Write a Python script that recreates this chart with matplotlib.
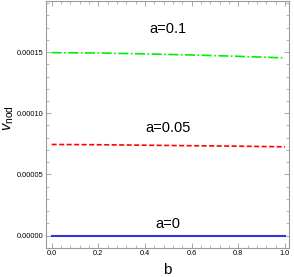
import numpy as np
import matplotlib
matplotlib.use("Agg")
import matplotlib.pyplot as plt
from matplotlib.ticker import MultipleLocator, FormatStrFormatter

plt.rcParams['font.family'] = ['Liberation Sans', 'DejaVu Sans']
plt.rcParams['mathtext.fontset'] = 'custom'
plt.rcParams['mathtext.rm'] = 'Liberation Sans'
plt.rcParams['mathtext.it'] = 'Liberation Sans:italic'

# values
b = [0.0, 0.2, 0.4, 0.6, 0.8, 1.0]
v_a01 = [1.495e-4, 1.492e-4, 1.485e-4, 1.476e-4, 1.465e-4, 1.452e-4]
v_a005 = [7.45e-5, 7.43e-5, 7.39e-5, 7.35e-5, 7.31e-5, 7.26e-5]
v_a0 = [0.0, 0.0, 0.0, 0.0, 0.0, 0.0]
labels = ["a=0.1", "a=0.05", "a=0"]
label_y = [1.692e-4, 8.76e-5, 0.95e-5]

fig = plt.figure(figsize=(2.94, 2.77), dpi=100)
ax = fig.add_axes([0.1575, 0.1058, 0.8255, 0.892])

ax.plot(b, v_a01, color='#00ee00', lw=1.2, dashes=(6, 1.5, 1, 1.5))
ax.plot(b, v_a005, color='#ff0000', lw=1.2, dashes=(3, 1.5))
ax.plot(b, v_a0, color='#3333dd', lw=1.5)

for t, yy in zip(labels, label_y):
    ax.text(0.5, yy, t, ha='center', va='center', fontsize=10.5)

ax.set_xlim(-0.023, 1.017)
ax.set_ylim(-0.98e-5, 1.92e-4)
ax.xaxis.set_major_locator(MultipleLocator(0.2))
ax.xaxis.set_minor_locator(MultipleLocator(0.04))
ax.yaxis.set_major_locator(MultipleLocator(5e-5))
ax.yaxis.set_minor_locator(MultipleLocator(1e-5))
ax.xaxis.set_major_formatter(FormatStrFormatter('%.1f'))
ax.yaxis.set_major_formatter(FormatStrFormatter('%.5f'))
ax.tick_params(which='both', direction='in', top=True, right=True, color='#999999',
               labelsize=5.3, pad=2)
ax.tick_params(which='major', length=3.5, width=0.6)
ax.tick_params(which='minor', length=2, width=0.5)
for s in ax.spines.values():
    s.set_color('#999999')
    s.set_linewidth(0.8)

ax.set_xlabel('b', fontsize=11, labelpad=4)
ax.set_ylabel(r'$v_{\rm nod}$', fontsize=10.5)
ax.yaxis.set_label_coords(-0.125, 0.525)

fig.savefig('out.png', dpi=100)
